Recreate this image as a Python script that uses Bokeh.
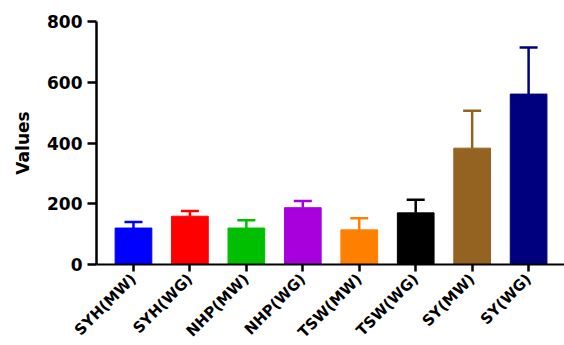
import numpy as np
from bokeh.plotting import figure
from bokeh.models import Range1d, FixedTicker, ColumnDataSource
from bokeh.embed import file_html
from bokeh.resources import INLINE

categories = ["SYH(MW)", "SYH(WG)", "NHP(MW)", "NHP(WG)", "TSW(MW)", "TSW(WG)", "SY(MW)", "SY(WG)"]
means = [120, 159, 120, 187, 114, 170, 383, 561]
errors = [20, 17, 26, 22, 38, 43, 123, 153]
colors = ["#0000FF", "#FF0000", "#00BF00", "#A800DD", "#FF8000", "#000000", "#946322", "#00007F"]
y_ticks = [0, 200, 400, 600, 800]

x = list(range(1, len(categories) + 1))
tops = [m + e for m, e in zip(means, errors)]
src = ColumnDataSource(dict(x=x, mean=means, top=tops, color=colors))

FONT = "DejaVu Sans"

p = figure(output_backend="svg", toolbar_location=None,
           frame_width=468, frame_height=243,
           x_range=Range1d(0.345, 8.636), y_range=Range1d(0, 800))
p.min_border_left = 96
p.min_border_top = 21
p.min_border_right = 0
p.min_border_bottom = 80
p.outline_line_color = None
p.background_fill_color = "white"
p.border_fill_color = "white"
p.xgrid.grid_line_color = None
p.ygrid.grid_line_color = None

p.vbar(x="x", width=0.65, bottom=0, top="mean", fill_color="color",
       line_color="color", line_width=1, source=src)
p.segment(x0="x", y0="mean", x1="x", y1="top", line_color="color",
          line_width=2.5, source=src)
p.scatter(x="x", y="top", marker="dash", size=18, line_color="color",
          line_width=2.5, source=src)

# axes
p.xaxis.ticker = FixedTicker(ticks=x)
p.xaxis.major_label_overrides = {i: c for i, c in zip(x, categories)}
p.xaxis.major_label_orientation = np.pi / 4
p.xaxis.major_label_text_font = FONT
p.xaxis.major_label_text_font_style = "bold"
p.xaxis.major_label_text_font_size = "15px"
p.xaxis.major_label_text_color = "black"
p.xaxis.major_label_standoff = 5
p.xaxis.major_tick_out = 7
p.xaxis.major_tick_in = 0
p.xaxis.minor_tick_line_color = None
p.xaxis.axis_line_width = 2
p.xaxis.major_tick_line_width = 2.5

p.yaxis.ticker = FixedTicker(ticks=y_ticks)
p.yaxis.major_label_text_font = FONT
p.yaxis.major_label_text_font_style = "bold"
p.yaxis.major_label_text_font_size = "17px"
p.yaxis.major_label_text_color = "black"
p.yaxis.major_label_standoff = 5
p.yaxis.major_tick_out = 9
p.yaxis.major_tick_in = 0
p.yaxis.minor_tick_line_color = None
p.yaxis.axis_line_width = 2.5
p.yaxis.major_tick_line_width = 2.5
p.yaxis.axis_label = "Values"
p.yaxis.axis_label_text_font = FONT
p.yaxis.axis_label_text_font_style = "bold"
p.yaxis.axis_label_text_font_size = "17px"
p.yaxis.axis_label_text_color = "black"
p.yaxis.axis_label_standoff = 11

open("out.html", "w").write(file_html(p, INLINE))
